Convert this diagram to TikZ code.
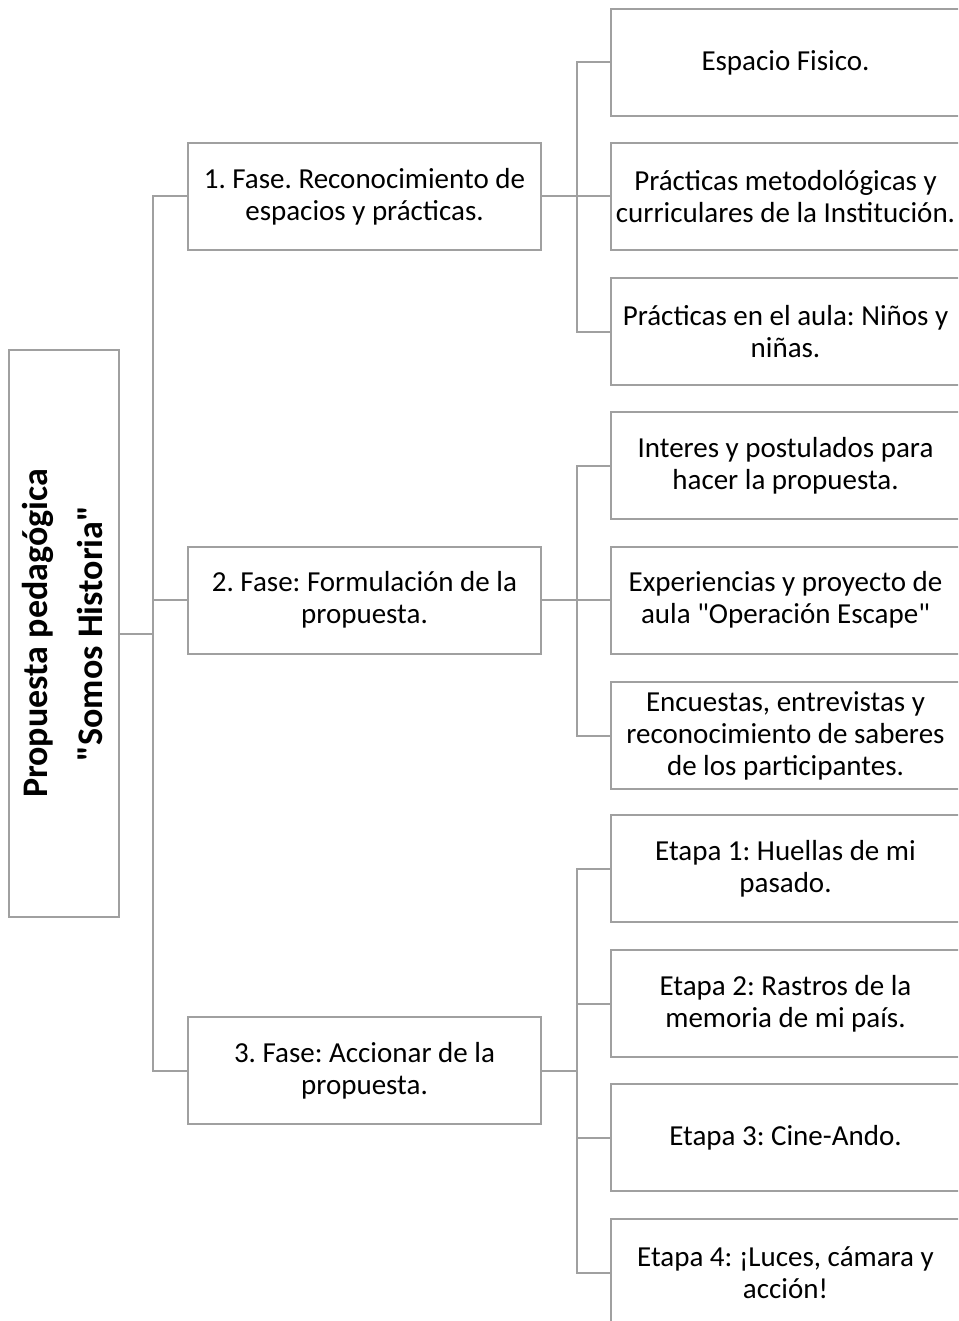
\documentclass[tikz,border=0pt]{standalone}
\usepackage{fontspec}
\setmainfont{Carlito}[Ligatures=TeXOff]
\frenchspacing
\begin{document}
\begin{tikzpicture}[x=1pt,y=-1pt,
  box/.style={draw=linegray, line width=2pt, fill=white, align=center, inner sep=0pt,
    font=\fontsize{29}{32}\selectfont\frenchspacing},
  phase/.style={box, minimum width=353pt, minimum height=107pt},
  leaf/.style={box, minimum width=349pt, minimum height=107pt},
  conn/.style={draw=linegray, line width=2pt}]
\definecolor{linegray}{HTML}{A0A0A0}
\clip (0,0) rectangle (958,1321);
\fill[white] (0,0) rectangle (958,1321);
\coordinate (sp) at (153,0);
\coordinate (g) at (577,0);
\node[box, minimum width=108pt, minimum height=567pt] (root) at (64,633.5)
  {\rotatebox{90}{\fontsize{36}{55}\selectfont\bfseries\begin{tabular}{@{}c@{}}Propuesta pedagógica\\"Somos Historia"\end{tabular}}};
\node[phase] (p1) at (364.5,196.5) {1. Fase. Reconocimiento de\\espacios y prácticas.};
\node[phase] (p2) at (364.5,600) {2. Fase: Formulación de la\\propuesta.};
\node[phase] (p3) at (364.5,1070.5) {3. Fase: Accionar de la\\propuesta.};
\node[leaf] (a1) at (785.5,62.5) {Espacio Fisico.};
\node[leaf] (a2) at (785.5,196.5) {Prácticas metodológicas y\\curriculares de la Institución.};
\node[leaf] (a3) at (785.5,331.5) {Prácticas en el aula: Niños y\\niñas.};
\node[leaf] (b1) at (785.5,465.5) {Interes y postulados para\\hacer la propuesta.};
\node[leaf] (b2) at (785.5,600) {Experiencias y proyecto de\\aula "Operación Escape"};
\node[leaf] (b3) at (785.5,735.5) {Encuestas, entrevistas y\\reconocimiento de saberes\\de los participantes.};
\node[leaf] (c1) at (785.5,868.5) {Etapa 1: Huellas de mi\\pasado.};
\node[leaf] (c2) at (785.5,1003.5) {Etapa 2: Rastros de la\\memoria de mi país.};
\node[leaf] (c3) at (785.5,1137.5) {Etapa 3: Cine-Ando.};
\node[leaf] (c4) at (785.5,1272.5) {Etapa 4: ¡Luces, cámara y\\acción!};
% spine
\draw[conn] (root.east) -- (root.east -| sp);
\draw[conn] (p1.west) -- (p1.west -| sp) -- (p3.west -| sp) -- (p3.west);
\draw[conn] (p2.west) -- (p2.west -| sp);
% group 1
\draw[conn] (p1.east) -- (p1.east -| g);
\draw[conn] (a1.west) -- (a1.west -| g) -- (a3.west -| g) -- (a3.west);
\draw[conn] (a2.west) -- (a2.west -| g);
% group 2
\draw[conn] (p2.east) -- (p2.east -| g);
\draw[conn] (b1.west) -- (b1.west -| g) -- (b3.west -| g) -- (b3.west);
\draw[conn] (b2.west) -- (b2.west -| g);
% group 3
\draw[conn] (p3.east) -- (p3.east -| g);
\draw[conn] (c1.west) -- (c1.west -| g) -- (c4.west -| g) -- (c4.west);
\draw[conn] (c2.west) -- (c2.west -| g);
\draw[conn] (c3.west) -- (c3.west -| g);
\end{tikzpicture}
\end{document}
